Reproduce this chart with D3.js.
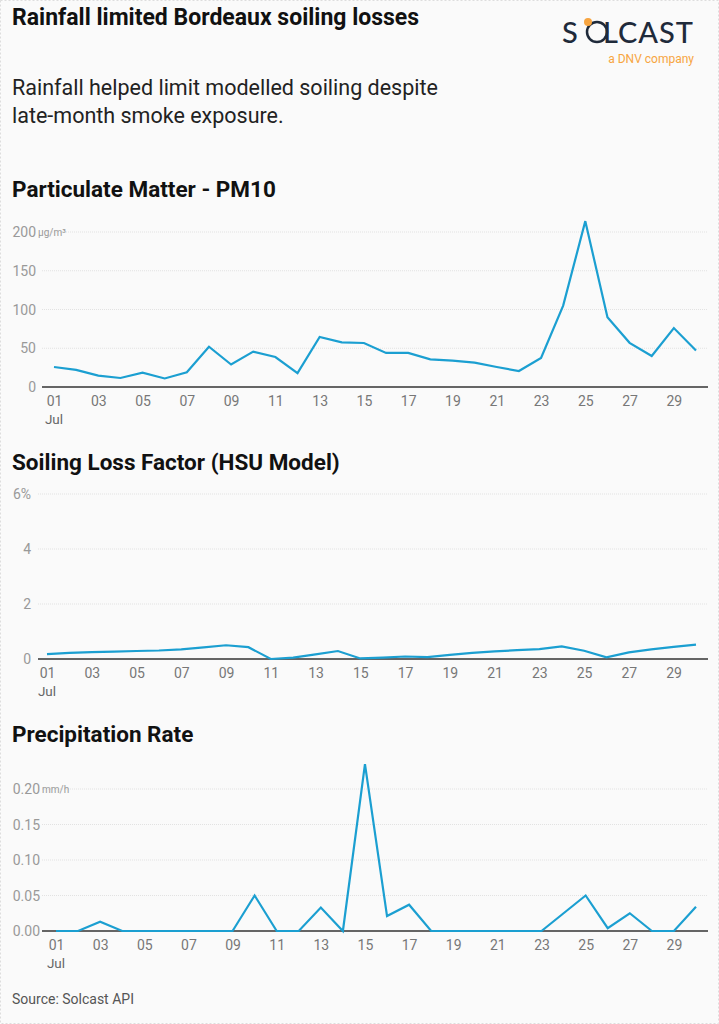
<!DOCTYPE html>
<html><head><meta charset="utf-8">
<script src="https://cdn.jsdelivr.net/npm/d3@7"></script>
<style>
body{margin:0;background:#fff;}
svg{display:block;font-family:Roboto,sans-serif;}
</style></head><body>
<svg id="c" width="719" height="1024"></svg>
<script>
const days = d3.range(1, 31);
const pm10 = [25.8,22,14.6,11.6,18.5,11,19,52,29,45.6,38.7,18,64.5,57.6,56.8,44,44,35.7,34,31.4,25.8,20.6,37.4,105,214,90,57,40,76,47];
const soiling = [0.18,0.22,0.25,0.27,0.29,0.31,0.35,0.42,0.5,0.43,0.0,0.05,0.17,0.29,0.02,0.05,0.09,0.07,0.15,0.22,0.28,0.32,0.36,0.46,0.3,0.06,0.24,0.35,0.44,0.52];
const precip = [0,0,0.013,0,0,0,0,0,0,0.05,0,0,0.033,0,0.235,0.021,0.037,0,0,0,0,0,0,0.025,0.05,0.004,0.025,0,0,0.034];
const tickDays = [1,3,5,7,9,11,13,15,17,19,21,23,25,27,29];

const svg = d3.select("#c");
svg.append("rect").attr("x",0.5).attr("y",0.5).attr("width",718).attr("height",1023)
  .attr("fill","#fafafa").attr("stroke","#ddd").attr("stroke-dasharray","2,2");

svg.append("text").attr("x",12).attr("y",25).attr("font-size",23).attr("font-weight",700).attr("fill","#111")
  .text("Rainfall limited Bordeaux soiling losses");
svg.append("text").attr("x",12).attr("y",95).attr("font-size",21.5).attr("fill","#222").text("Rainfall helped limit modelled soiling despite");
svg.append("text").attr("x",12).attr("y",123).attr("font-size",21.5).attr("fill","#222").text("late-month smoke exposure.");

// logo
const logo = svg.append("g").attr("fill","#1f2a3a").attr("font-family","Lato,sans-serif").attr("font-size",29).attr("font-weight",500);
logo.append("text").attr("x",562).attr("y",43).text("S");
logo.append("text").attr("x",694).attr("y",43).attr("text-anchor","end").attr("letter-spacing",1).text("LCAST");
logo.append("circle").attr("cx",597).attr("cy",32).attr("r",10).attr("fill","none").attr("stroke","#1f2a3a").attr("stroke-width",2.5);
logo.append("circle").attr("cx",588).attr("cy",22).attr("r",4).attr("fill","#f7a541");
svg.append("text").attr("x",694).attr("y",63).attr("text-anchor","end").attr("font-size",12).attr("fill","#f7a541").text("a DNV company");

svg.append("text").attr("x",12).attr("y",1004).attr("font-size",14).attr("fill","#555").text("Source: Solcast API");

function panel(o){
  const x = d3.scaleLinear().domain([1,30]).range([o.x0, 696]);
  const y = d3.scaleLinear().domain([0,o.max]).range([o.yb, o.yt]);
  svg.append("text").attr("x",12).attr("y",o.titleY).attr("font-size",22.5).attr("font-weight",700).attr("fill","#111").text(o.title);
  const g = svg.append("g");
  o.ticks.forEach((t,i)=>{
    if(t>0) g.append("line").attr("x1",o.gx).attr("x2",708).attr("y1",y(t)).attr("y2",y(t)).attr("stroke","#e2e2e2").attr("stroke-dasharray","1,1");
    g.append("text").attr("x",o.lx).attr("y",y(t)+5).attr("text-anchor","end").attr("font-size",14).attr("fill","#999")
      .text(o.fmt(t));
    if(i===o.ticks.length-1 && o.unit) g.append("text").attr("x",o.lx+2).attr("y",y(t)+4).attr("font-size",10).attr("fill","#999").text(o.unit);
  });
  const ax = d3.axisBottom(x).tickValues(tickDays).tickSize(0).tickPadding(9).tickFormat(d=>d3.format("02")(d));
  const a = g.append("g").attr("transform",`translate(0,${o.yb})`).call(ax);
  a.select(".domain").remove();
  a.selectAll("text").attr("font-size",14).attr("fill","#777").attr("font-family","Roboto,sans-serif");
  g.append("line").attr("x1",o.gx).attr("x2",708).attr("y1",o.yb).attr("y2",o.yb).attr("stroke","#333").attr("stroke-width",1.3);
  if(o.jul) g.append("text").attr("x",x(1)).attr("y",o.yb+37).attr("text-anchor","middle").attr("font-size",13.5).attr("fill","#666").text("Jul");
  g.append("path").datum(o.data).attr("fill","none").attr("stroke","#1b9fd1").attr("stroke-width",2.2)
    .attr("d", d3.line().x((d,i)=>x(days[i])).y(d=>y(d)));
}
panel({title:"Particulate Matter - PM10",titleY:197,data:pm10,max:200,yb:387,yt:232,x0:54,gx:42,lx:36,
  ticks:[0,50,100,150,200],fmt:d=>d,unit:"µg/m³",jul:true});
panel({title:"Soiling Loss Factor (HSU Model)",titleY:470,data:soiling,max:6,yb:659,yt:494,x0:47,gx:38,lx:31,
  ticks:[0,2,4,6],fmt:d=>d===6?"6%":d,unit:null,jul:true});
panel({title:"Precipitation Rate",titleY:742,data:precip,max:0.2,yb:931,yt:789,x0:56,gx:42,lx:40,
  ticks:[0,0.05,0.1,0.15,0.2],fmt:d3.format(".2f"),unit:"mm/h",jul:true});
</script></body></html>
